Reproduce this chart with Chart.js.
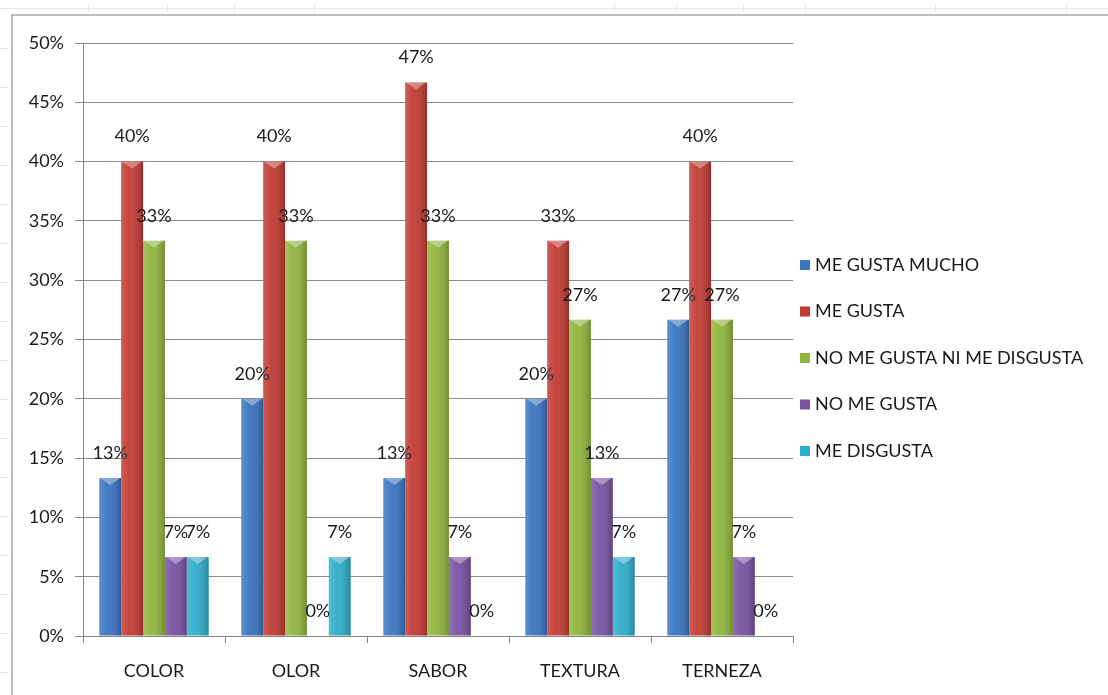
<!DOCTYPE html>
<html>
<head>
<meta charset="utf-8">
<script src="https://cdn.jsdelivr.net/npm/chart.js@4.4.1/dist/chart.umd.min.js"></script>
<style>
  html, body { margin: 0; padding: 0; background: #fff; }
  #wrap { width: 1108px; height: 695px; position: relative; }
</style>
</head>
<body>
<div id="wrap"><canvas id="chart" width="1108" height="695"></canvas></div>
<script>
const categories = ["COLOR", "OLOR", "SABOR", "TEXTURA", "TERNEZA"];
const seriesNames = ["ME GUSTA MUCHO", "ME GUSTA", "NO ME GUSTA NI ME DISGUSTA", "NO ME GUSTA", "ME DISGUSTA"];
const meGustaMucho = [13.33, 20, 13.33, 20, 26.67];
const meGusta = [40, 40, 46.67, 33.33, 40];
const niGustaNiDisgusta = [33.33, 33.33, 33.33, 26.67, 26.67];
const noMeGusta = [6.67, 0, 6.67, 13.33, 6.67];
const meDisgusta = [6.67, 6.67, 0, 6.67, 0];
const yTicks = [0, 5, 10, 15, 20, 25, 30, 35, 40, 45, 50];

const colors = ["#3a74c2", "#c23b33", "#8fb63d", "#7853a3", "#2eaecb"];
const FONT = "Lato, 'Open Sans', sans-serif";

// sheet frame behind the chart
const frame = {
  id: "frame",
  beforeDraw(chart) {
    const ctx = chart.ctx;
    ctx.save();
    ctx.fillStyle = "#fff";
    ctx.fillRect(0, 0, chart.width, chart.height);
    ctx.strokeStyle = "#e4e4e4";
    ctx.lineWidth = 1;
    ctx.beginPath();
    ctx.moveTo(0, 8.5); ctx.lineTo(chart.width, 8.5);
    [88, 167, 234, 314, 614, 676, 743, 805, 935, 1066].forEach(x => {
      ctx.moveTo(x + 0.5, 4); ctx.lineTo(x + 0.5, 12);
    });
    for (let y = 48; y < chart.height; y += 39) {
      ctx.moveTo(0, y + 0.5); ctx.lineTo(9, y + 0.5);
    }
    ctx.stroke();
    ctx.strokeStyle = "#a6a6a6";
    ctx.lineWidth = 1.5;
    ctx.beginPath();
    ctx.moveTo(12, chart.height); ctx.lineTo(12, 15); ctx.lineTo(chart.width, 15);
    ctx.stroke();
    ctx.restore();
  }
};

// shading and value labels on the bars
const barLook = {
  id: "barLook",
  afterDatasetsDraw(chart) {
    const ctx = chart.ctx;
    ctx.save();
    chart.data.datasets.forEach((ds, i) => {
      const meta = chart.getDatasetMeta(i);
      meta.data.forEach((bar, j) => {
        const left = bar.x - bar.width / 2;
        const h = bar.base - bar.y;
        if (h > 1) {
          const g = ctx.createLinearGradient(left, 0, left + bar.width, 0);
          g.addColorStop(0, "rgba(255,255,255,0.18)");
          g.addColorStop(0.35, "rgba(255,255,255,0.05)");
          g.addColorStop(1, "rgba(0,0,0,0.22)");
          ctx.fillStyle = g;
          ctx.fillRect(left, bar.y, bar.width, h);
          ctx.fillStyle = "rgba(255,255,255,0.35)";
          ctx.beginPath();
          ctx.moveTo(left + 1, bar.y);
          ctx.lineTo(left + bar.width - 1, bar.y);
          ctx.lineTo(bar.x, bar.y + Math.min(7, h));
          ctx.closePath();
          ctx.fill();
        }
        ctx.fillStyle = "#1a1a1a";
        ctx.font = "18px " + FONT;
        ctx.textAlign = "center";
        ctx.textBaseline = "middle";
        ctx.fillText(Math.round(ds.data[j]) + "%", bar.x, bar.y - 25);
      });
    });
    ctx.restore();
  }
};

// legend on the right
const sideLegend = {
  id: "sideLegend",
  afterDraw(chart) {
    const ctx = chart.ctx;
    ctx.save();
    ctx.font = "18px " + FONT;
    ctx.textBaseline = "middle";
    chart.data.datasets.forEach((ds, i) => {
      const y = 265 + i * 46.5;
      ctx.fillStyle = ds.backgroundColor;
      ctx.fillRect(800, y - 5, 10, 10);
      ctx.fillStyle = "#1a1a1a";
      ctx.textAlign = "left";
      ctx.fillText(ds.label, 815, y);
    });
    ctx.restore();
  }
};

const seriesValues = [meGustaMucho, meGusta, niGustaNiDisgusta, noMeGusta, meDisgusta];

new Chart(document.getElementById("chart"), {
  type: "bar",
  data: {
    labels: categories,
    datasets: seriesNames.map((name, i) => ({
      label: name,
      data: seriesValues[i],
      backgroundColor: colors[i],
      borderWidth: 0,
      categoryPercentage: 0.77,
      barPercentage: 1
    }))
  },
  options: {
    responsive: false,
    animation: false,
    layout: { padding: { top: 43, right: 315, left: 0, bottom: 0 } },
    scales: {
      y: {
        min: 0,
        max: 50,
        afterBuildTicks: scale => { scale.ticks = yTicks.map(v => ({ value: v })); },
        afterFit: scale => { scale.width = 83; },
        border: { color: "#868686", width: 1 },
        grid: { color: "#8c8c8c", lineWidth: 1, tickLength: 8, drawTicks: true },
        ticks: {
          callback: v => v + "%",
          color: "#1a1a1a",
          font: { family: FONT, size: 18 },
          padding: 11
        }
      },
      x: {
        afterFit: scale => { scale.height = 59; },
        border: { color: "#868686", width: 1 },
        grid: { offset: true, drawOnChartArea: false, drawTicks: true, tickLength: 7, color: "#868686" },
        ticks: {
          color: "#1a1a1a",
          font: { family: FONT, size: 18 },
          padding: 17
        }
      }
    },
    plugins: {
      legend: { display: false },
      tooltip: { enabled: false }
    }
  },
  plugins: [frame, barLook, sideLegend]
});
</script>
</body>
</html>
